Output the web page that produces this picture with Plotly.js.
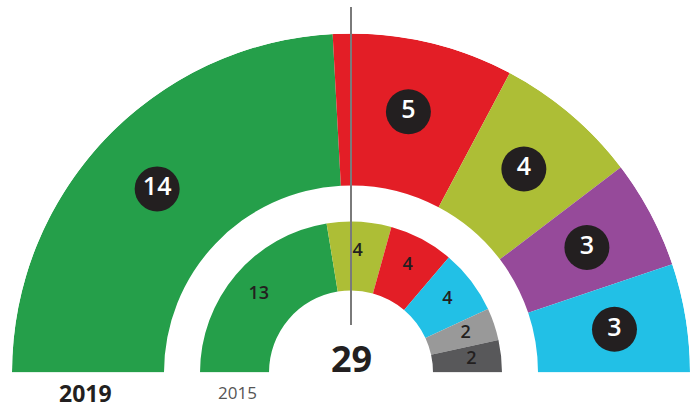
<!DOCTYPE html>
<html>
<head>
<meta charset="utf-8">
<script src="https://cdn.plot.ly/plotly-3.0.1.min.js"></script>
<style>html,body{margin:0;padding:0;background:#fff;}#chart{width:690px;height:409px;}</style>
</head>
<body>
<div id="chart"></div>
<script>
const total = 29;
const seats2019 = [14, 5, 4, 3, 3];
const colors2019 = ['#259f4a', '#e31e26', '#adbe36', '#964a9a', '#22c0e6'];
const seats2015 = [13, 4, 4, 4, 2, 2];
const colors2015 = ['#259f4a', '#adbe36', '#e31e26', '#22c0e6', '#999999', '#58585a'];

function layoutRing(vals) {
  const centers = [], widths = [];
  let cum = 0;
  vals.forEach(v => {
    const w = v / total * 180;
    centers.push(cum + w / 2);
    widths.push(w);
    cum += w;
  });
  return {centers, widths};
}

const R_OUT_IN = 187, R_OUT_OUT = 339, R_IN_IN = 82, R_IN_OUT = 151;
const o = layoutRing(seats2019);
const inn = layoutRing(seats2015);

const traces = [
  {
    type: 'barpolar', theta: o.centers, width: o.widths,
    r: seats2019.map(() => R_OUT_OUT - R_OUT_IN), base: seats2019.map(() => R_OUT_IN),
    marker: {color: colors2019, line: {width: 0}}, hoverinfo: 'skip'
  },
  {
    type: 'barpolar', theta: inn.centers, width: inn.widths,
    r: seats2015.map(() => R_IN_OUT - R_IN_IN), base: seats2015.map(() => R_IN_IN),
    marker: {color: colors2015, line: {width: 0}}, hoverinfo: 'skip'
  },
  {
    type: 'scatterpolar', mode: 'markers+text', theta: o.centers,
    r: seats2019.map(() => 267), text: seats2019.map(String),
    marker: {size: 45, color: '#231f20'},
    textposition: 'middle center',
    textfont: {family: 'Open Sans, sans-serif', size: 25, color: '#ffffff', weight: 600},
    hoverinfo: 'skip'
  },
  {
    type: 'scatterpolar', mode: 'text', theta: inn.centers,
    r: seats2015.map(() => 121), text: seats2015.map(String),
    textposition: 'middle center',
    textfont: {family: 'Open Sans, sans-serif', size: 18, color: '#231f20', weight: 600},
    hoverinfo: 'skip'
  }
];

const layout = {
  width: 690, height: 409,
  margin: {l: 12, r: 0, t: 33, b: 36},
  paper_bgcolor: '#ffffff',
  showlegend: false,
  polar: {
    domain: {x: [0, 1], y: [0, 1]},
    sector: [0, 180],
    hole: 0,
    bgcolor: 'rgba(0,0,0,0)',
    bargap: 0,
    radialaxis: {range: [0, 339], visible: false, showgrid: false},
    angularaxis: {rotation: 180, direction: 'clockwise', visible: false, showgrid: false, thetaunit: 'degrees'}
  },
  shapes: [
    {type: 'line', xref: 'paper', yref: 'paper', x0: 0.5, x1: 0.5,
     y0: (373 - 325) / 340, y1: (373 - 7) / 340,
     line: {color: '#7a7a7a', width: 2}}
  ],
  annotations: [
    {xref: 'paper', yref: 'paper', x: 0.5, y: (373 - 358) / 340, text: '<b>29</b>', showarrow: false,
     font: {family: 'Open Sans, sans-serif', size: 36, color: '#231f20'}, xanchor: 'center', yanchor: 'middle'},
    {xref: 'paper', yref: 'paper', x: (85 - 12) / 678, y: (373 - 393) / 340, text: '<b>2019</b>', showarrow: false,
     font: {family: 'Open Sans, sans-serif', size: 23, color: '#231f20'}, xanchor: 'center', yanchor: 'middle'},
    {xref: 'paper', yref: 'paper', x: (237 - 12) / 678, y: (373 - 392) / 340, text: '2015', showarrow: false,
     font: {family: 'Open Sans, sans-serif', size: 17, color: '#555555'}, xanchor: 'center', yanchor: 'middle'}
  ]
};

Plotly.newPlot('chart', traces, layout, {staticPlot: true, displayModeBar: false});
</script>
</body>
</html>
